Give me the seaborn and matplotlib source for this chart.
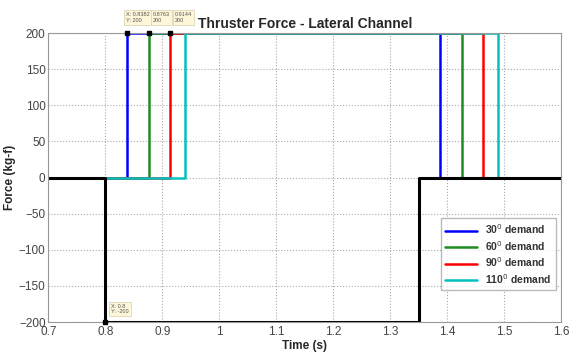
import matplotlib
matplotlib.use("Agg")
import matplotlib.pyplot as plt
import seaborn as sns
import numpy as np
import pandas as pd

# demand series: switch-on and switch-off times (s)
demands = ["30", "60", "90", "110"]
rise_times = [0.8382, 0.8763, 0.9144, 0.9400]
fall_times = [1.388, 1.426, 1.463, 1.490]
force_on = 200
line_colors = ["#0000ff", "#1e8c1e", "#ff0000", "#00c0c0"]

# black reference force profile
ref_time = [0.7, 0.8, 0.8, 1.35, 1.35, 1.6]
ref_force = [0, 0, -200, -200, 0, 0]

# data tips
tip_x = [0.8382, 0.8763, 0.9144]
tip_y = [200, 200, 200]

rows = []
for name, t_on, t_off in zip(demands, rise_times, fall_times):
    xs = [0.8, t_on, t_on, t_off, t_off]
    ys = [0, 0, force_on, force_on, 0]
    for x, y in zip(xs, ys):
        rows.append({"Time": x, "Force": y, "Demand": name})
df = pd.DataFrame(rows)
ref_df = pd.DataFrame({"Time": ref_time, "Force": ref_force})

sns.set_style("white")
plt.rcParams["font.family"] = ["Liberation Sans", "DejaVu Sans"]
fig = plt.figure(figsize=(5.69, 3.52), dpi=100)
ax = fig.add_axes([0.085, 0.085, 0.901, 0.821])

for name, col in zip(demands, line_colors):
    sub = df[df["Demand"] == name]
    sns.lineplot(data=sub, x="Time", y="Force", sort=False, estimator=None,
                 color=col, linewidth=1.8, ax=ax,
                 label=f"{name}$^0$ demand")
sns.lineplot(data=ref_df, x="Time", y="Force", sort=False, estimator=None,
             color="black", linewidth=2.2, ax=ax, legend=False)

# data tip markers and boxes
ax.plot(tip_x, tip_y, "s", color="black", markersize=3.5, clip_on=False, zorder=5)
ax.plot([0.8], [-200], "s", color="black", markersize=3.5, clip_on=False, zorder=5)
tip_box = dict(boxstyle="square,pad=0.35", fc="#fdf6d8", ec="#d8d0b0", lw=0.5)
ax.text(tip_x[0] - 0.002, 214, f"X: {tip_x[0]:.4f}\nY: {tip_y[0]}", fontsize=4,
        color="#555555", bbox=tip_box, va="bottom", ha="left", zorder=6)
ax.text(tip_x[1] + 0.007, 214, f"{tip_x[1]:.4f}\n{tip_y[1]}", fontsize=4,
        color="#555555", bbox=tip_box, va="bottom", ha="left", zorder=6)
ax.text(tip_x[2] + 0.007, 214, f"{tip_x[2]:.4f}\n{tip_y[2]}", fontsize=4,
        color="#555555", bbox=tip_box, va="bottom", ha="left", zorder=6)
ax.text(0.81, -182, "X: 0.8\nY: -200", fontsize=4, color="#555555",
        bbox=tip_box, va="center", ha="left", zorder=6)

ax.set_xlim(0.7, 1.6)
ax.set_ylim(-200, 200)
ax.set_xticks(np.arange(0.7, 1.61, 0.1))
ax.set_xticklabels(["0.7", "0.8", "0.9", "1", "1.1", "1.2", "1.3", "1.4", "1.5", "1.6"])
ax.set_yticks(np.arange(-200, 201, 50))
ax.tick_params(labelsize=8.5, colors="#444444", length=3, direction="in", pad=2)
ax.tick_params(axis="x", pad=3)
ax.grid(True, linestyle=":", color="#aaaaaa", linewidth=0.8)
for s in ax.spines.values():
    s.set_color("#999999")
    s.set_linewidth(0.8)

ax.set_title("Thruster Force - Lateral Channel", fontsize=10, fontweight="bold", pad=4)
ax.set_xlabel("Time (s)", fontsize=8.5, fontweight="bold", labelpad=1)
ax.set_ylabel("Force (kg-f)", fontsize=8.5, fontweight="bold", labelpad=2)

leg = ax.legend(loc="lower right", bbox_to_anchor=(0.99, 0.11), fontsize=7.5,
                frameon=True, fancybox=False, edgecolor="#aaaaaa",
                handlelength=3, labelspacing=0.25, borderpad=0.45,
                borderaxespad=0)
for t in leg.get_texts():
    t.set_fontweight("bold")
    t.set_color("#333333")

fig.savefig("out.png", dpi=100)
